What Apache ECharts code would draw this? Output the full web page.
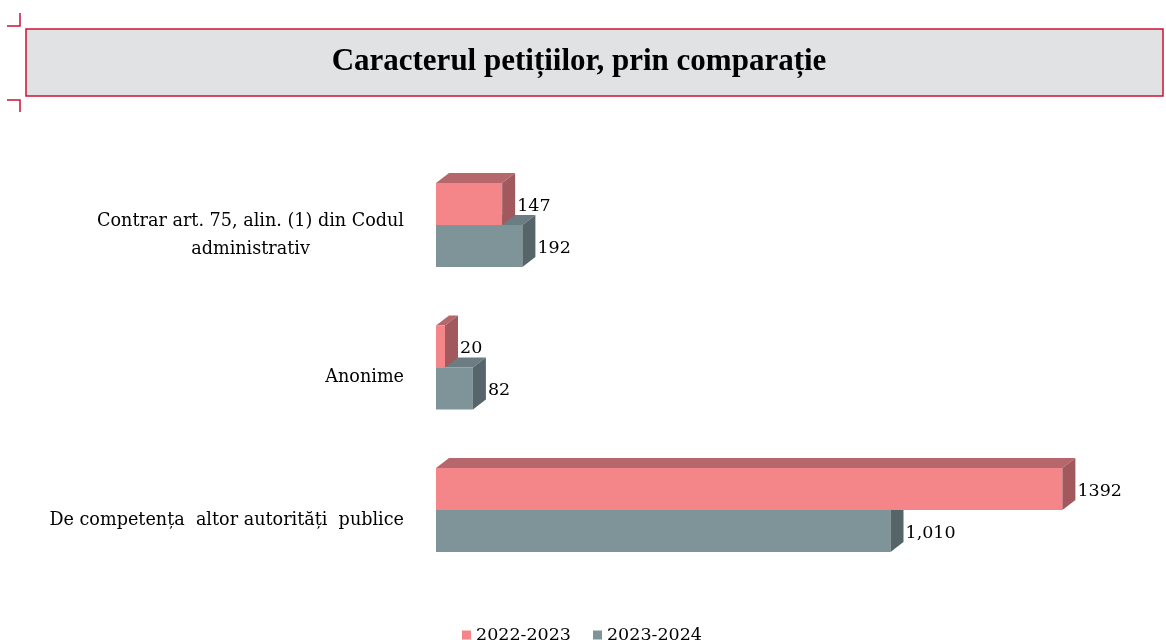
<!DOCTYPE html>
<html>
<head>
  <meta charset="utf-8">
  <title>Caracterul petitiilor</title>
  <script src="https://cdn.jsdelivr.net/npm/echarts@6/dist/echarts.min.js"></script>
  <style>
    html, body { margin: 0; padding: 0; background: #fff; }
    #main { width: 1166px; height: 640px; }
  </style>
</head>
<body>
  <div id="main"></div>
  <script>
    // date
    var categories = [
      'Contrar art. 75, alin. (1) din Codul\nadministrativ',
      'Anonime',
      'De competența  altor autorități  publice'
    ];
    var seriesNames = ['2022-2023', '2023-2024'];
    var values2022 = [147, 20, 1392];
    var values2023 = [192, 82, 1010];

    // culori pentru fata, capac si lateral (efect 3D)
    var pinkFaces = { front: '#f4868a', top: '#b5676b', side: '#a2595d' };
    var greyFaces = { front: '#7f9499', top: '#6b7d82', side: '#56656a' };

    var labelFont = '17.5px "DejaVu Serif"';
    var depthX = 13, depthY = -10;

    function makeRender(faces, below, fmt) {
      return function (params, api) {
        var cat = api.value(1);
        var val = api.value(0);
        var start = api.coord([0, cat]);
        var end = api.coord([val, cat]);
        var band = api.size([0, 1])[1];
        var h = band * 0.295;
        var x0 = start[0], x1 = end[0];
        var yTop = below ? start[1] : start[1] - h;
        var yBot = yTop + h;
        return {
          type: 'group',
          children: [
            {
              type: 'polygon',
              shape: { points: [[x0, yTop], [x0 + depthX, yTop + depthY], [x1 + depthX, yTop + depthY], [x1, yTop]] },
              style: { fill: faces.top }
            },
            {
              type: 'rect',
              shape: { x: x0, y: yTop, width: x1 - x0, height: h },
              style: { fill: faces.front }
            },
            {
              type: 'polygon',
              shape: { points: [[x1, yTop], [x1 + depthX, yTop + depthY], [x1 + depthX, yBot + depthY], [x1, yBot]] },
              style: { fill: faces.side }
            },
            {
              type: 'text',
              x: x1 + depthX + 2,
              y: (yTop + yBot) / 2 + 2,
              style: { text: fmt(val), font: labelFont, fill: '#000', verticalAlign: 'middle', align: 'left' }
            }
          ]
        };
      };
    }

    function toData(arr) {
      return arr.map(function (v, i) { return [v, i]; });
    }

    var chart = echarts.init(document.getElementById('main'));
    chart.setOption({
      animation: false,
      title: {
        text: 'Caracterul petițiilor, prin comparație',
        left: 574,
        top: 41,
        textAlign: 'center',
        textStyle: { fontFamily: 'Liberation Serif', fontWeight: 'bold', fontSize: 31, color: '#000' }
      },
      graphic: [
        { type: 'rect', z: -1, shape: { x: 26, y: 29, width: 1137, height: 67 },
          style: { fill: '#e1e2e4', stroke: '#cc1236', lineWidth: 1.5 } },
        { type: 'polyline', shape: { points: [[7, 26], [20, 26], [20, 13]] },
          style: { stroke: '#cc1236', lineWidth: 1.5, fill: null } },
        { type: 'polyline', shape: { points: [[7, 100], [20, 100], [20, 112]] },
          style: { stroke: '#cc1236', lineWidth: 1.5, fill: null } }
      ],
      legend: {
        data: seriesNames,
        left: 457,
        top: 621,
        icon: 'rect',
        itemWidth: 9,
        itemHeight: 9,
        itemGap: 22,
        textStyle: { fontFamily: 'DejaVu Serif', fontSize: 17.5, color: '#000' }
      },
      grid: { left: 436, right: 10, top: 153.75, height: 427.5 },
      xAxis: { type: 'value', min: 0, max: 1600, show: false },
      yAxis: {
        type: 'category',
        inverse: true,
        data: categories,
        axisLine: { show: false },
        axisTick: { show: false },
        splitLine: { show: false },
        axisLabel: {
          margin: 32,
          padding: [20, 0, 0, 0],
          formatter: function (v) {
            return v.split('\n').map(function (s) { return '{c|' + s + '}'; }).join('\n');
          },
          rich: {
            c: { align: 'center', fontFamily: 'DejaVu Serif', fontSize: 17.6, color: '#000', lineHeight: 28 }
          }
        }
      },
      series: [
        {
          name: seriesNames[1],
          type: 'custom',
          z: 2,
          itemStyle: { color: greyFaces.front },
          encode: { x: 0, y: 1 },
          data: toData(values2023),
          renderItem: makeRender(greyFaces, true, function (v) { return v.toLocaleString('en-US'); })
        },
        {
          name: seriesNames[0],
          type: 'custom',
          z: 3,
          itemStyle: { color: pinkFaces.front },
          encode: { x: 0, y: 1 },
          data: toData(values2022),
          renderItem: makeRender(pinkFaces, false, function (v) { return String(v); })
        }
      ]
    });
  </script>
</body>
</html>
